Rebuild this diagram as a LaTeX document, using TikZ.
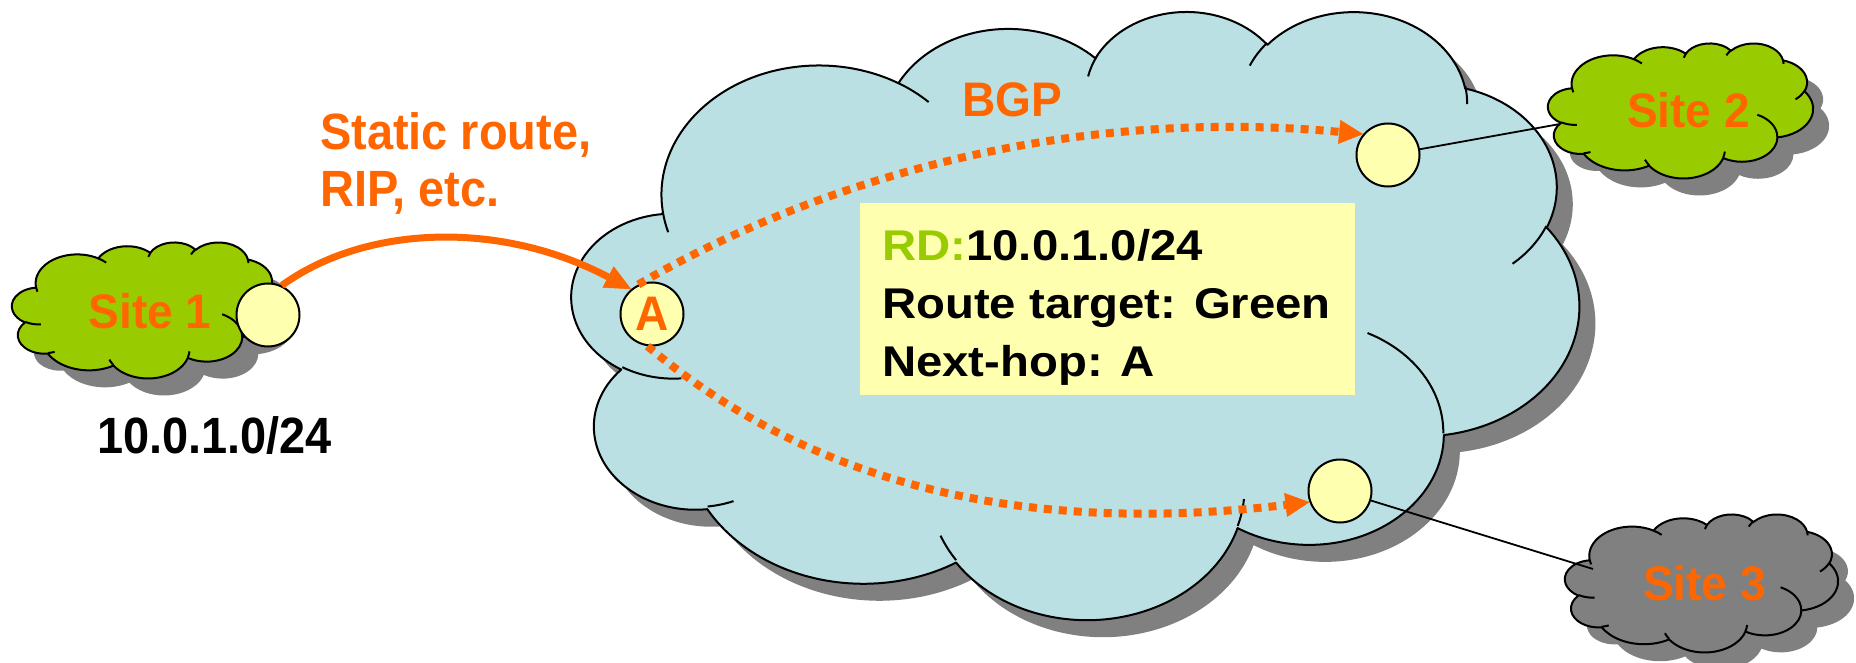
\documentclass[tikz,border=0pt]{standalone}
\usepackage{fontspec}
\setmainfont{Liberation Sans}
\newfontfamily\lblfont{Liberation Sans}[FakeStretch=0.95]
\newfontfamily\narrowfont{Liberation Sans}[FakeStretch=0.92]
\newfontfamily\boxfont{Liberation Sans}[FakeStretch=1.1]
\usetikzlibrary{arrows.meta}

\definecolor{netblue}{RGB}{186,224,227}
\definecolor{sitegreen}{RGB}{153,204,0}
\definecolor{shadowgrey}{RGB}{128,128,128}
\definecolor{pale}{RGB}{255,255,176}
\definecolor{signal}{RGB}{255,102,0}

% Elliptical arc continuing the current path; angles are ray angles
% (measured from the centre), radii in the 4320-unit cloud frame.
\newcommand\vizarc[4]{%
  \pgfmathsetmacro\arcA{atan2((#1)*sin(#3),(#2)*cos(#3))}%
  \pgfmathsetmacro\arcB{atan2((#1)*sin((#3)+(#4)),(#2)*cos((#3)+(#4)))}%
  \pgfmathsetmacro\arcD{\arcB-\arcA}%
  \pgfmathsetmacro\arcD{\arcD+360*((#4)>0)*(\arcD<0)-360*((#4)<0)*(\arcD>0)}%
  \pgfmathsetmacro\arcE{\arcA+\arcD}%
  \pgfpatharc{\arcA}{\arcE}{#1pt and #2pt}%
}

% Outline of a cloud in a 4320 x 4320 frame (y pointing down)
\newcommand\cloudoutline{%
  \pgfpathmoveto{\pgfpoint{390pt}{1437pt}}%
  \vizarc{675.3}{919.0}{-190.48748}{123.78053}%
  \vizarc{533.3}{726.7}{-144.10238}{89.94523}%
  \vizarc{436.5}{594.5}{-145.80792}{99.72302}%
  \vizarc{485.7}{659.5}{-130.98607}{117.24173}%
  \vizarc{533.3}{727.3}{-78.70888}{109.02692}%
  \vizarc{677.5}{922.0}{-46.26725}{130.269}%
  \vizarc{578.5}{786.7}{0.62502}{114.03333}%
  \vizarc{675.2}{921.5}{22.4516}{115.17255}%
  \vizarc{772.0}{1054.3}{66.24263}{75.71102}%
  \vizarc{436.0}{591.8}{-274.94208}{146.73557}%
  \vizarc{434.5}{594.5}{-246.8285}{152.51885}%
  \pgfpathclose}

% Short inner curls where the puffs meet
\newcommand\cloudhooks{%
  \pgfpathmoveto{\pgfpoint{469.3pt}{2617.7pt}}\vizarc{434.5}{594.5}{86.742}{26.4295}%
  \pgfpathmoveto{\pgfpoint{692.8pt}{3489.9pt}}\vizarc{436.0}{591.8}{73.6105}{11.4475}%
  \pgfpathmoveto{\pgfpoint{1647.8pt}{3909.0pt}}\vizarc{675.2}{921.5}{137.6242}{14.0811}%
  \pgfpathmoveto{\pgfpoint{2882.7pt}{3475.1pt}}\vizarc{675.2}{921.5}{6.4533}{15.9984}%
  \pgfpathmoveto{\pgfpoint{3412.9pt}{2295.4pt}}\vizarc{578.5}{786.7}{-70.2924}{70.9174}%
  \pgfpathmoveto{\pgfpoint{4179.8pt}{1535.4pt}}\vizarc{533.3}{727.3}{30.318}{27.7515}%
  \pgfpathmoveto{\pgfpoint{3832.4pt}{542.6pt}}\vizarc{485.7}{659.5}{-13.7443}{14.8589}%
  \pgfpathmoveto{\pgfpoint{2907.8pt}{395.2pt}}\vizarc{485.7}{659.5}{-149.1815}{18.1954}%
  \pgfpathmoveto{\pgfpoint{2214.1pt}{472.0pt}}\vizarc{436.5}{594.5}{-163.4943}{17.6864}%
  \pgfpathmoveto{\pgfpoint{1400.0pt}{519.2pt}}\vizarc{675.3}{919.0}{-66.707}{12.3194}%
  \pgfpathmoveto{\pgfpoint{412.7pt}{1578.9pt}}\vizarc{675.3}{919.0}{157.6544}{11.8582}%
}

% \drawcloud{left}{top}{width}{height}{fill colour}, pixel units, y down
\newcommand\drawcloud[5]{%
  \pgfmathsetmacro\cxs{#3/4320}%
  \pgfmathsetmacro\cys{-#4/4320}%
  \begin{pgfscope}
    \pgftransformcm{\cxs}{0}{0}{\cys}{\pgfpoint{#1pt+16pt}{-#2pt-17pt}}%
    \cloudoutline
    \pgfsetfillcolor{shadowgrey}%
    \pgfusepath{fill}%
  \end{pgfscope}
  \begin{pgfscope}
    \pgftransformcm{\cxs}{0}{0}{\cys}{\pgfpoint{#1pt}{-#2pt}}%
    \pgfsetlinewidth{2pt}%
    \pgfsetroundjoin
    \pgfsetfillcolor{#5}\pgfsetstrokecolor{black}%
    \cloudoutline
    \pgfusepath{fill,stroke}%
    \cloudhooks
    \pgfusepath{stroke}%
  \end{pgfscope}
}

\begin{document}
\begin{tikzpicture}[x=1pt,y=-1pt,
  port/.style={circle, draw=black, line width=2pt, fill=pale,
    minimum size=63pt, inner sep=0pt},
  sitelbl/.style={font={\lblfont\fontsize{48.5}{58}\selectfont\bfseries},
    text=signal, inner sep=0pt},
  bigtxt/.style={font={\narrowfont\fontsize{51}{57}\selectfont\bfseries},
    inner sep=0pt},
  boxtxt/.style={font={\boxfont\fontsize{43}{52}\selectfont\bfseries},
    text=black, inner sep=0pt, anchor=base west},
  infobox/.style={rectangle, fill=pale, draw=none, inner sep=0pt,
    minimum width=495pt, minimum height=192pt},
  wire/.style={black, line width=1.8pt},
  solidarrow/.style={signal, line width=7pt,
    -{Triangle[length=26pt,width=24pt,line width=0.5pt]}},
  dotarrow/.style={signal, line width=8pt, dash pattern=on 8pt off 7pt,
    -{Triangle[length=24pt,width=24pt,line width=0.5pt]}}]

\fill[white] (0,0) rectangle (1856,663);
\useasboundingbox (0,0) rectangle (1856,663);

% provider network and customer sites
\drawcloud{572}{10}{1007}{608}{netblue}
\drawcloud{12}{242}{266}{136}{sitegreen}
\drawcloud{1548}{43}{265}{135}{sitegreen}
\drawcloud{1565}{514}{273}{138}{shadowgrey}

% route information box
\node[infobox] (info) at (1107.5,299) {};
\node[boxtxt] (rd) at (882,260.7) {\textcolor{sitegreen}{RD:}10.0.1.0/24};
\node[boxtxt] (rt) at (882,318.3) {Route target: Green};
\node[boxtxt] (nh) at (882,376.7) {Next-hop: A};

% site labels
\node[sitelbl, anchor=base] (s1t) at (150,328) {Site 1};
\node[sitelbl, anchor=base] (s2t) at (1688.5,128) {Site 2};
\node[sitelbl, anchor=base] (s3t) at (1704.5,600) {Site 3};

% routers
\node[port] (s1c) at (268,315) {};
\node[port, sitelbl] (A) at (652,314) {A};
\node[port] (s2c) at (1388,155) {};
\node[port] (s3c) at (1340,491) {};

% attachment circuits
\coordinate (s2in) at (1560,124);
\coordinate (s3in) at (1593,569);
\draw[wire] (s2c) -- (s2in);
\draw[wire] (s3c) -- (s3in);

% other labels
\node[bigtxt, text=signal, anchor=base west] (st1) at (320,150) {Static route,};
\node[bigtxt, text=signal, anchor=base west] (st2) at (320,207) {RIP, etc.};
\node[bigtxt, text=black, anchor=base west] (pfx) at (97,453.5) {10.0.1.0/24};
\node[sitelbl, anchor=base west] (bgp) at (962,117) {BGP};

% route propagation
\draw[solidarrow] (s1c.65) .. controls (365,225) and (500,220) .. (A.130);
\draw[dotarrow] (A.115) .. controls (800,190) and (1050,105) .. (s2c.140);
\draw[dotarrow] (A.262) .. controls (760,440) and (950,545) .. (s3c.200);

\end{tikzpicture}
\end{document}
